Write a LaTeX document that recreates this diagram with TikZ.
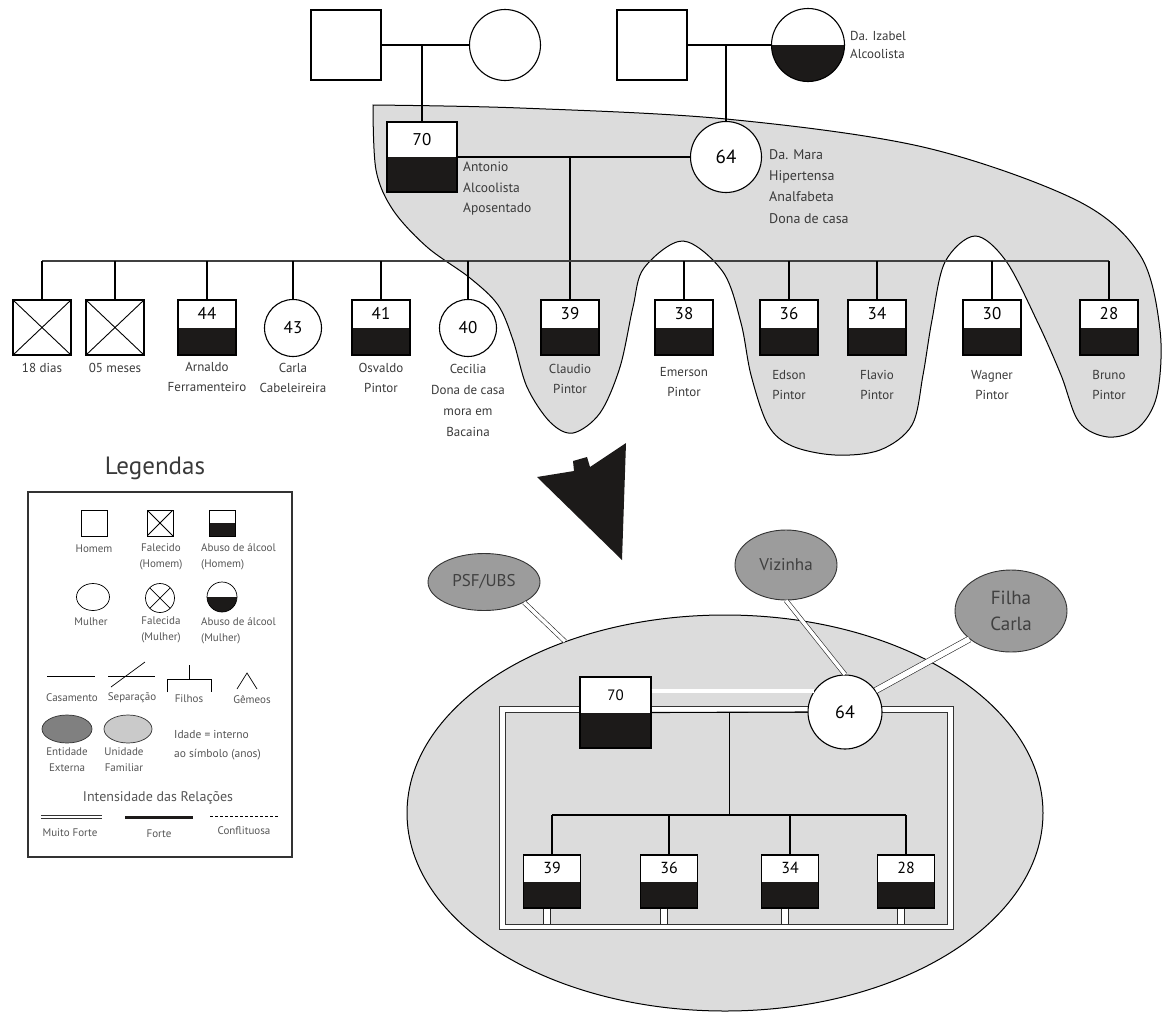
\documentclass[tikz,border=0pt]{standalone}
\usepackage{fontspec}
\setmainfont{PT Sans}
\usetikzlibrary{shapes.geometric,calc}
\definecolor{blk}{HTML}{1C1A19}
\definecolor{fam}{HTML}{DCDCDC}
\definecolor{extc}{HTML}{9C9C9C}
\definecolor{extd}{HTML}{808080}
\definecolor{unic}{HTML}{CACACA}
\definecolor{txt}{HTML}{3A3A3A}
\definecolor{ltxt}{HTML}{555555}
\newcommand{\myfs}[1]{\fontsize{#1}{#1}\selectfont}
\newcommand{\myfsb}[2]{\fontsize{#1}{#2}\selectfont}
\begin{document}
\begin{tikzpicture}[x=1pt,y=-1pt,
  every node/.style={inner sep=0pt},
  lnk/.style={draw=black, line width=1.1pt},
  sibl/.style={draw=black!75, line width=1.7pt},
  pbase/.style={draw=black, line width=1.1pt, fill=white, inner sep=0pt},
  sqm/.style={pbase, rectangle, minimum width=#1, minimum height=#1},
  abm/.style={pbase, rectangle, path picture={\fill[blk] (path picture bounding box.west) rectangle (path picture bounding box.south east);}},
  crossq/.style={pbase, rectangle, path picture={\draw[line width=0.9pt] (path picture bounding box.north west) -- (path picture bounding box.south east) (path picture bounding box.north east) -- (path picture bounding box.south west);}},
  crossc/.style={pbase, circle, path picture={\draw[line width=0.7pt] (path picture bounding box.north west) -- (path picture bounding box.south east) (path picture bounding box.north east) -- (path picture bounding box.south west);}},
  halfc/.style={pbase, circle, path picture={\fill[blk] (path picture bounding box.west) rectangle (path picture bounding box.south east);}},
  kid/.style={abm, minimum width=58, minimum height=55, text height=12pt, text depth=27.5pt, font=\myfs{17}},
  dkid/.style={crossq, minimum width=58, minimum height=55},
  fkid/.style={pbase, circle, minimum size=57, font=\myfs{17}},
  lbl/.style={align=center, font=\myfsb{13}{20}, text=txt, inner sep=0pt, label distance=#1},
  info/.style={align=left, font=\myfsb{13.5}{20.5}, text=txt},
  ekid/.style={abm, minimum width=57, minimum height=53, text height=11pt, text depth=26.5pt, font=\myfs{16}},
  dbl/.style={draw=black!85, line width=0.6pt, double=white, double distance=#1},
  dbl/.default=3.5pt,
  extn/.style={draw=black!80, line width=0.9pt, ellipse, fill=extc, text=black!75, align=center},
  lg/.style={line width=0.7pt},
  lt/.style={font=\myfsb{11}{16}, text=ltxt, align=center},
]
\useasboundingbox (0,0) rectangle (1162,1012);

% ---------- family unit shading ----------
\filldraw[fill=fam, draw=black, line width=1pt] (373,105) -- plot[smooth, tension=0.55] coordinates {(373,105) (520,108) (726,119) (923,147) (1076,200) (1140,255) (1160,330) (1157,395) (1138,428) (1108,437) (1079,422) (1061,375) (1038,323) (1006,261) (975,236) (945,262) (932,320) (923,375) (912,425) (880,450) (835,455) (792,446) (768,425) (751,375) (741,323) (723,272) (683,241) (644,268) (633,307) (620,367) (600,413) (573,433) (550,422) (527,387) (513,340) (498,305) (470,278) (427,247) (393,210) (376,170) (373,105)} -- cycle;

% ---------- grandparents ----------
\node[sqm=70] (gfp) at (346,45) {};
\node[pbase, circle, minimum size=71] (gmp) at (505,45) {};
\node[sqm=70] (gfm) at (652,45) {};
\node[halfc, minimum size=73] (izabel) at (808,45) {};
\node[info, font=\myfsb{13}{18}, anchor=north west] (izt) at (850,31) {Da. Izabel\\Alcoolista};

% ---------- parents ----------
\node[abm, minimum width=70, minimum height=70, text height=12pt, text depth=35pt, font=\myfs{17}] (ant) at (422,157) {70};
\node[pbase, circle, minimum size=71, font=\myfs{19}] (mara) at (726,157) {64};
\node[info, anchor=north west] (antt) at (463,162) {Antonio\\Alcoolista\\Aposentado};
\node[info, font=\myfsb{14}{21.3}, anchor=north west] (marat) at (769,149) {Da. Mara\\Hipertensa\\Analfabeta\\Dona de casa};

\draw[lnk] (gfp.east) -- (gmp.west);
\draw[lnk] (ant.north |- gfp.east) -- (ant.north);
\draw[lnk] (gfm.east) -- (izabel.west);
\draw[lnk] (mara.north |- gfm.east) -- (mara.north);

% ---------- children ----------
\node[dkid, label={[lbl=7pt]below:18 dias}] (k1) at (42,327.5) {};
\node[dkid, label={[lbl=7pt]below:05 meses}] (k2) at (115,327.5) {};
\node[kid, label={[lbl=7pt]below:Arnaldo\\Ferramenteiro}] (k3) at (207,327.5) {44};
\node[fkid, label={[lbl=5.5pt]below:Carla\\Cabeleireira}] (k4) at (293,328) {43};
\node[kid, label={[lbl=7pt]below:Osvaldo\\Pintor}] (k5) at (381,327.5) {41};
\node[fkid, label={[lbl=6.5pt, font=\myfsb{13}{21}]below:Cecilia\\Dona de casa\\mora em\\Bacaina}] (k6) at (468,328) {40};
\node[kid, label={[lbl=8pt]below:Claudio\\Pintor}] (k7) at (570,327.5) {39};
\node[kid, label={[lbl=11.5pt]below:Emerson\\Pintor}] (k8) at (684,327.5) {38};
\node[kid, label={[lbl=14.5pt]below:Edson\\Pintor}] (k9) at (789,327.5) {36};
\node[kid, label={[lbl=14.5pt]below:Flavio\\Pintor}] (k10) at (877,327.5) {34};
\node[kid, label={[lbl=14.5pt]below:Wagner\\Pintor}] (k11) at (992,327.5) {30};
\node[kid, label={[lbl=14.5pt]below:Bruno\\Pintor}] (k12) at (1109,327.5) {28};

\draw[lnk] (ant.east) -- (mara.west);
\draw[lnk] (k7.north |- ant.east) -- (k7.north);
\draw[sibl] (k1.north |- 0,261) -- (k12.north |- 0,261);
\foreach \k in {k1,k2,k3,k4,k5,k6,k8,k9,k10,k11,k12}
  \draw[lnk] (\k.north |- 0,261) -- (\k.north);

% ---------- arrow ----------
\fill[blk] (537,477) -- (574,471) -- (573,461) -- (587,457) -- (590,467) -- (626,443) -- (622,560) -- cycle;

% ---------- legend ----------
\node[font=\myfs{25}, text=txt] (legt) at (155,468) {Legendas};
\draw[line width=1.4pt, draw=black!80] (28,492) rectangle (292,857);

\node[sqm=26, line width=0.7pt] (lhom) at (94,523) {};
\node[crossq, minimum size=26, line width=0.7pt] (lfal) at (160,523) {};
\node[abm, minimum size=26, line width=0.7pt] (labu) at (222,523) {};
\node[lt] (lhomt) at (94,549) {Homem};
\node[lt] (lfalt) at (161,557) {Falecido\\(Homem)};
\node[lt, align=left, anchor=west] (labut) at (201,557) {Abuso de álcool\\(Homem)};

\node[pbase, ellipse, minimum width=33, minimum height=27, line width=0.7pt] (lmul) at (93,597) {};
\node[crossc, minimum size=29, line width=0.7pt] (lfala) at (160,598) {};
\node[halfc, minimum size=30, line width=0.7pt] (labm) at (222,597) {};
\node[lt] (lmult) at (91,622) {Mulher};
\node[lt] (lfalat) at (161,630) {Falecida\\(Mulher)};
\node[lt, align=left, anchor=west] (labmt) at (201,631) {Abuso de álcool\\(Mulher)};

\draw[lg] (47,676) -- (95,676);
\node[lt] (lcas) at (72,698) {Casamento};
\draw[lg] (108,676) -- (155,676);
\draw[lg] (111,687) -- (145,662);
\node[lt] (lsep) at (132,698) {Separação};
\draw[lg] (167,692) -- (167,679) -- (211,679) -- (211,692);
\draw[lg] (189,679) -- (189,665);
\node[lt] (lfil) at (189,699) {Filhos};
\draw[lg] (237,689) -- (247,673) -- (257,689);
\node[lt] (lgem) at (252,700) {Gêmeos};

\node[ellipse, draw=black!80, line width=0.7pt, fill=extd, minimum width=50, minimum height=28] (lext) at (67,729) {};
\node[ellipse, draw=black!80, line width=0.7pt, fill=unic, minimum width=48, minimum height=28] (luni) at (128,729) {};
\node[lt] (lextt) at (67,760) {Entidade\\Externa};
\node[lt] (lunit) at (124,760) {Unidade\\Familiar};
\node[lt, font=\myfsb{11.5}{19}, align=left, anchor=west] (lida) at (174,745) {Idade = interno\\ao símbolo (anos)};

\node[font=\myfs{14}, text=ltxt] (lint) at (158,798) {Intensidade das Relações};
\draw[draw=black!80, line width=0.6pt, double=white, double distance=2.6pt] (41,817) -- (102,817);
\draw[blk, line width=3pt] (125,817) -- (193,817);
\draw[line width=0.6pt, dashed, dash pattern=on 3pt off 2pt] (210,816) -- (278,816);
\node[lt] (lmf) at (70,833) {Muito Forte};
\node[lt] (lfo) at (159,834) {Forte};
\node[lt] (lco) at (244,831) {Conflituosa};

% ---------- ecomap ----------
\node[draw=black, line width=1pt, ellipse, fill=fam, minimum width=636, minimum height=396] (famu) at (725,813) {};
\node[extn, minimum width=112, minimum height=57, font=\myfs{17}] (psf) at (484,582) {PSF/UBS};
\node[extn, minimum width=102, minimum height=70, font=\myfs{17}] (viz) at (786,565) {Vizinha};
\node[extn, minimum width=112, minimum height=82, font=\myfsb{19}{26}] (filha) at (1011,611) {Filha\\Carla};

\draw[draw=black!80, line width=0.8pt, double=white, double distance=4.5pt] (502.5,709.5) rectangle (950.5,927);

\node[abm, minimum width=71, minimum height=71, text height=10.5pt, text depth=35.5pt, font=\myfs{15}] (a2) at (615.5,712.5) {70};
\node[pbase, circle, minimum size=74, font=\myfs{18}] (m2) at (845,712) {64};
\node[ekid] (e39) at (552,881.5) {39};
\node[ekid] (e36) at (669,881.5) {36};
\node[ekid] (e34) at (790,881.5) {34};
\node[ekid] (e28) at (906,881.5) {28};

\draw[dbl] (psf.-27) -- (famu.133);
\draw[dbl] (viz.south) -- (m2.north);
\draw[dbl=5.5pt] (filha.214) -- (m2.35);
\draw[dbl] (a2.east |- m2.146) -- (m2.146);

\draw[lnk] (a2.east) -- (m2.west);
\coordinate (ejoin) at ($(a2.east)!0.5!(m2.west)$);
\draw[lnk] (ejoin) -- (ejoin |- 0,815);
\draw[lnk] (e39.north |- 0,815) -- (e28.north |- 0,815);
\foreach \c in {e39,e36,e34,e28}{
  \draw[lnk] (\c.north) -- (\c.north |- 0,815);
  \path ([xshift=-5pt]\c.south) coordinate (\c s);
  \draw[dbl=6pt] (\c s) -- (\c s |- 0,924);
}
\end{tikzpicture}
\end{document}
